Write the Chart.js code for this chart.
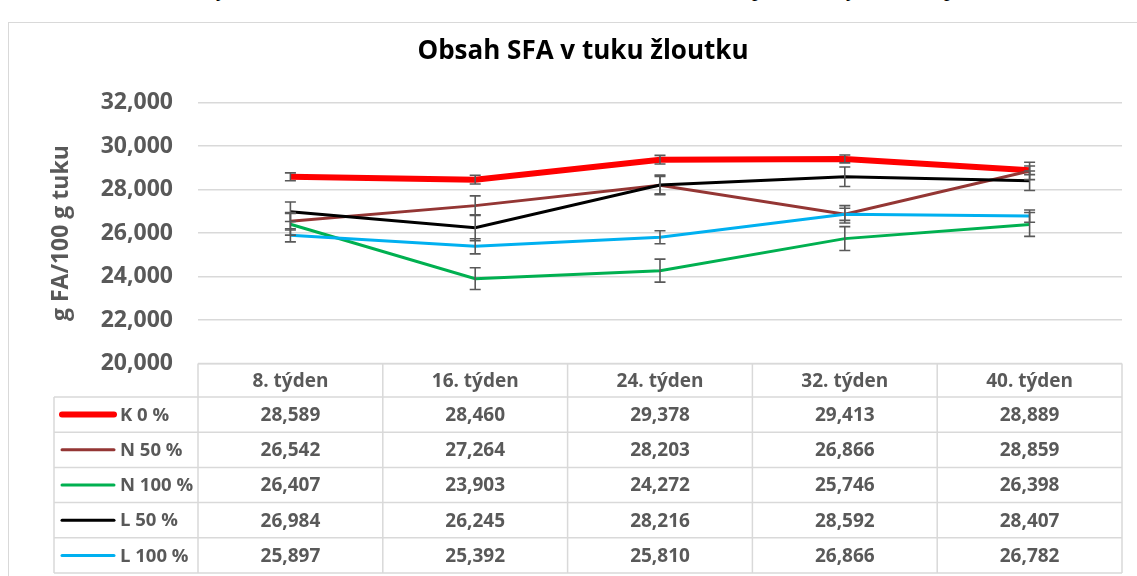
<!DOCTYPE html>
<html>
<head>
<meta charset="utf-8">
<script src="https://cdn.jsdelivr.net/npm/chart.js@4.4.1/dist/chart.umd.min.js"></script>
<style>
  html, body { margin: 0; padding: 0; background: #fff; overflow: hidden; }
  #wrap { position: relative; width: 1137px; height: 576px; overflow: hidden; }
  #frame { position: absolute; left: 8px; top: 22px; width: 1200px; height: 600px; border: 1.5px solid #d9d9d9; box-sizing: border-box; }
  canvas { position: absolute; left: 0; top: 0; }
  #above { position: absolute; left: 0; top: 0; width: 1137px; height: 8px; overflow: hidden; }
  #above span { position: absolute; top: -22px; font-family: 'Liberation Serif', serif; font-size: 22px; line-height: 22px; color: #000; }
</style>
</head>
<body>
<div id="wrap">
  <div id="above"><span style="left:216px">ý</span><span style="left:752px">p</span><span style="left:846px">ý</span><span style="left:944px">p</span></div>
  <div id="frame"></div>
  <canvas id="c" width="1137" height="576"></canvas>
</div>
<script>
// ---- data ----
const categories = ['8. týden', '16. týden', '24. týden', '32. týden', '40. týden'];
const seriesNames = ['K 0 %', 'N 50 %', 'N 100 %', 'L 50 %', 'L 100 %'];
const k0   = [28.589, 28.460, 29.378, 29.413, 28.889];
const n50  = [26.542, 27.264, 28.203, 26.866, 28.859];
const n100 = [26.407, 23.903, 24.272, 25.746, 26.398];
const l50  = [26.984, 26.245, 28.216, 28.592, 28.407];
const l100 = [25.897, 25.392, 25.810, 26.866, 26.782];
// error bar half-lengths (estimated)
const k0Err   = [0.18, 0.20, 0.20, 0.18, 0.20];
const n50Err  = [0.40, 0.45, 0.40, 0.40, 0.40];
const n100Err = [0.50, 0.50, 0.53, 0.55, 0.55];
const l50Err  = [0.45, 0.60, 0.45, 0.45, 0.45];
const l100Err = [0.30, 0.35, 0.30, 0.28, 0.28];
const yMin = 20, yMax = 32, yStep = 2;

const seriesValues = [k0, n50, n100, l50, l100];
const seriesErrors = [k0Err, n50Err, n100Err, l50Err, l100Err];
const seriesColors = ['#FF0000', '#943634', '#00B050', '#000000', '#00B0F0'];
const seriesWidths = [6, 3, 3, 3, 3];

const fmt = v => v.toFixed(3).replace('.', ',');
const FONT = "'Open Sans', 'Liberation Sans', sans-serif";
const GRID = '#d9d9d9';
const TXT = '#595959';

const errorBarPlugin = {
  id: 'errorBars',
  afterDatasetsDraw(chart) {
    const ctx = chart.ctx, ys = chart.scales.y;
    ctx.save();
    ctx.strokeStyle = '#595959';
    ctx.lineWidth = 1.6;
    chart.data.datasets.forEach((ds, di) => {
      const meta = chart.getDatasetMeta(di);
      meta.data.forEach((pt, i) => {
        const v = ds.data[i], e = ds.errors[i];
        const x = pt.x;
        const yt = ys.getPixelForValue(v + e);
        const yb = ys.getPixelForValue(v - e);
        ctx.beginPath();
        ctx.moveTo(x, yt); ctx.lineTo(x, yb);
        ctx.moveTo(x - 5.5, yt); ctx.lineTo(x + 5.5, yt);
        ctx.moveTo(x - 5.5, yb); ctx.lineTo(x + 5.5, yb);
        ctx.stroke();
      });
    });
    ctx.restore();
  }
};

const tablePlugin = {
  id: 'dataTable',
  afterDraw(chart) {
    const ctx = chart.ctx, xs = chart.scales.x, area = chart.chartArea;
    const n = categories.length;
    const colW = (area.right - area.left) / n;
    const top = area.bottom;
    const headerH = 33.5, rowH = 35.2;
    const legendLeft = 54;
    const bottom = top + headerH + rowH * seriesNames.length;
    ctx.save();
    ctx.strokeStyle = GRID;
    ctx.lineWidth = 1.5;
    ctx.beginPath();
    ctx.moveTo(area.left, top); ctx.lineTo(area.right, top);
    for (let r = 0; r <= seriesNames.length; r++) {
      const y = top + headerH + r * rowH;
      ctx.moveTo(legendLeft, y); ctx.lineTo(area.right, y);
    }
    ctx.moveTo(legendLeft, top + headerH); ctx.lineTo(legendLeft, bottom);
    for (let i = 0; i < n; i++) {
      const xl = xs.getPixelForValue(i) - colW / 2;
      ctx.moveTo(xl, top); ctx.lineTo(xl, bottom);
    }
    ctx.moveTo(area.right, top); ctx.lineTo(area.right, bottom);
    ctx.stroke();

    ctx.fillStyle = TXT;
    ctx.font = "bold 19px " + FONT;
    ctx.textAlign = 'center';
    ctx.textBaseline = 'middle';
    categories.forEach((c, i) => {
      ctx.fillText(c, xs.getPixelForValue(i), top + headerH / 2 + 1);
    });
    chart.data.datasets.forEach((ds, r) => {
      const yc = top + headerH + r * rowH + rowH / 2 + 1;
      ctx.font = "bold 19px " + FONT;
      ctx.textAlign = 'center';
      ds.data.forEach((v, i) => ctx.fillText(fmt(v), xs.getPixelForValue(i), yc));
      ctx.save();
      ctx.strokeStyle = ds.borderColor;
      ctx.lineWidth = ds.borderWidth;
      ctx.lineCap = 'round';
      ctx.beginPath();
      ctx.moveTo(62, yc - 1); ctx.lineTo(114, yc - 1);
      ctx.stroke();
      ctx.restore();
      ctx.font = "bold 18.5px " + FONT;
      ctx.textAlign = 'left';
      ctx.fillText(ds.label, 120, yc);
    });
    ctx.restore();
  }
};

const datasets = seriesNames.map((name, i) => ({
  label: name,
  data: seriesValues[i],
  errors: seriesErrors[i],
  borderColor: seriesColors[i],
  backgroundColor: seriesColors[i],
  borderWidth: seriesWidths[i],
  pointRadius: 0,
  tension: 0,
  fill: false,
  order: seriesNames.length - i
}));

new Chart(document.getElementById('c'), {
  type: 'line',
  data: { labels: categories, datasets },
  options: {
    responsive: false,
    animation: false,
    layout: { padding: { left: 44, right: 15, top: 0, bottom: 212.5 } },
    plugins: {
      legend: { display: false },
      tooltip: { enabled: false },
      title: {
        display: true,
        text: 'Obsah SFA v tuku žloutku',
        color: '#000',
        font: { family: FONT, size: 26, weight: 'bold' },
        padding: { top: 36.4, bottom: 35.1 }
      }
    },
    scales: {
      x: { type: 'category', display: false, offset: true },
      y: {
        min: yMin, max: yMax,
        ticks: {
          stepSize: yStep,
          callback: v => fmt(v),
          color: TXT,
          font: { family: FONT, size: 23, weight: 'bold' },
          padding: 25
        },
        grid: { color: GRID, lineWidth: 1.5, drawTicks: false },
        border: { display: false },
        title: {
          display: true,
          text: 'g FA/100 g tuku',
          color: TXT,
          font: { family: FONT, size: 23, weight: 'bold' },
          padding: { top: 4, bottom: 4 }
        },
        afterFit(scale) { scale.width = 154; }
      }
    }
  },
  plugins: [errorBarPlugin, tablePlugin]
});
</script>
</body>
</html>
